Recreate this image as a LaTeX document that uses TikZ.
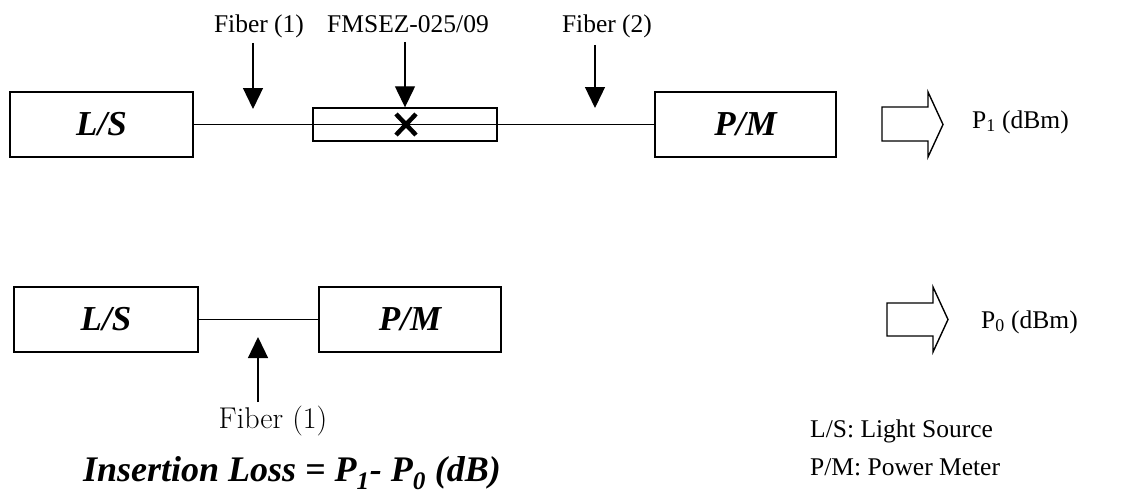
\documentclass[tikz,border=0pt]{standalone}
\usepackage{fontspec}
\newfontfamily\tms{Liberation Serif}
\usetikzlibrary{arrows.meta}
\tikzset{
  devbox/.style={draw, line width=1.4pt, minimum width=183pt, minimum height=65pt, inner sep=0pt, font=\tms\fontsize{35}{40}\selectfont\bfseries\itshape},
  connbox/.style={draw, line width=1.4pt, minimum width=184pt, minimum height=33pt, inner sep=0pt},
  fiber/.style={line width=1.3pt},
  pointer/.style={line width=1.3pt, -{Triangle[width=20pt,length=21pt]}},
  lbl/.style={font=\tms\fontsize{25.5}{30}\selectfont, inner sep=0pt, anchor=base},
  blockarrow/.style={draw, line width=1.4pt, fill=white, line join=miter},
}
\begin{document}
\begin{tikzpicture}[x=1pt,y=-1pt]
\useasboundingbox (0,0) rectangle (1121,495);
% top row
\node[devbox] (ls1) at (101.5,124.5) {L/S};
\node[devbox, minimum width=181pt] (pm1) at (745.5,124.5) {P/M};
\node[connbox] (conn) at (405,124.5) {};
\draw[fiber] (ls1) -- (pm1);
\draw[line width=4.5pt] (396,114) -- (416,135) (396,135) -- (416,114);
% labels and pointers
\node[lbl] (f1lbl) at (259,33) {Fiber (1)};
\node[lbl] (fmlbl) at (408,33) {FMSEZ-025/09};
\node[lbl] (f2lbl) at (607,33) {Fiber (2)};
\coordinate (f1tail) at (253,43);
\coordinate (f1tip) at (253,109);
\coordinate (fmtail) at (405,42);
\coordinate (f2tail) at (595,45);
\coordinate (f2tip) at (595,108);
\draw[pointer] (f1tail) -- (f1tip);
\draw[pointer] (fmtail) -- (conn.north);
\draw[pointer] (f2tail) -- (f2tip);
% output arrow top
\draw[blockarrow] (882,107) -- (928,107) -- (928,92) -- (943,124.5) -- (928,157) -- (928,141) -- (882,141) -- cycle;
\node[lbl, anchor=base west] (p1) at (972,128) {P\textsubscript{1} (dBm)};
% bottom row
\node[devbox, minimum width=184pt] (ls2) at (106,319.5) {L/S};
\node[devbox, minimum width=182pt] (pm2) at (410,319.5) {P/M};
\draw[fiber] (ls2) -- (pm2);
\node[font=\fontsize{30}{36}\selectfont, inner sep=0pt, anchor=base] (f1blbl) at (273,428) {Fiber (1)};
\coordinate (fbtail) at (258,402);
\coordinate (fbtip) at (258,337);
\draw[pointer] (fbtail) -- (fbtip);
\draw[blockarrow] (887,303) -- (933,303) -- (933,287) -- (948,319.5) -- (933,352) -- (933,336) -- (887,336) -- cycle;
\node[lbl, anchor=base west] (p0) at (981,328) {P\textsubscript{0} (dBm)};
\node[lbl, anchor=base west] (leg1) at (810,437) {L/S: Light Source};
\node[lbl, anchor=base west] (leg2) at (810,475) {P/M: Power Meter};
\node[font=\tms\fontsize{36}{42}\selectfont\bfseries\itshape, inner sep=0pt, anchor=base] (il) at (292,481) {Insertion Loss = P\textsubscript{1}- P\textsubscript{0} (dB)};
\end{tikzpicture}
\end{document}
